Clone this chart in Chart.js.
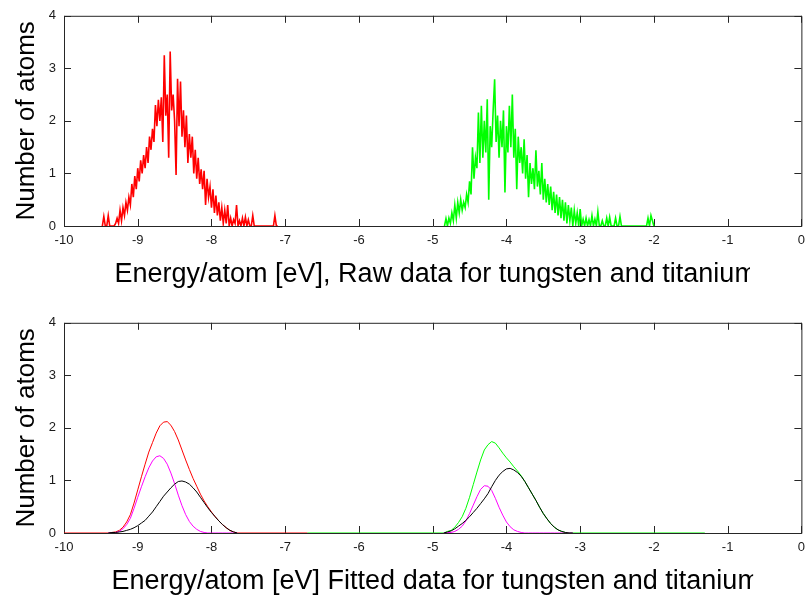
<!DOCTYPE html>
<html>
<head>
<meta charset="utf-8">
<script src="https://cdn.jsdelivr.net/npm/chart.js@4.4.1/dist/chart.umd.min.js"></script>
<style>
html,body{margin:0;padding:0;background:#fff;overflow:hidden}
#wrap{position:relative;width:806px;height:596px;overflow:hidden;background:#fff}
canvas{position:absolute;left:0}
#raw{top:0}
#fit{top:307px}
</style>
</head>
<body>
<div id="wrap">
<canvas id="raw" width="812" height="307"></canvas>
<canvas id="fit" width="812" height="289"></canvas>
</div>
<script>
// ---- tick labels
const xTickValues = [-10,-9,-8,-7,-6,-5,-4,-3,-2,-1,0];
const yTickValues = [0,1,2,3,4];

// ---- raw histograms (bin width 0.02 eV)
const binStep = 0.02;
const wRawStart = -9.48;
const wRaw = [
0,0.18,0,0,0.2,0,0,0,0,0.05,
0.15,0.05,0.3,0.1,0.35,0.2,0.45,0.3,0.55,0.4,
0.8,0.55,0.95,0.7,1.1,0.85,1.25,1.0,1.35,1.1,
1.5,1.2,1.7,1.45,1.85,1.6,2.3,1.9,2.4,2.0,
2.45,1.6,3.25,2.1,2.5,1.3,3.32,2.2,2.5,2.0,
0.97,2.8,1.9,2.75,1.7,2.2,1.5,2.1,1.2,1.75,
1.3,1.7,1.0,1.45,0.9,1.3,0.8,1.08,0.7,1.05,
0.4,0.9,0.55,0.75,0.35,0.7,0.25,0.58,0.2,0.45,
0.1,0.35,0.05,0.3,0.05,0.4,0,0.15,0,0.12,
0.05,0.4,0,0.1,0,0.15,0,0.17,0,0.12,
0,0,0.2,0,0,0,0,0,0,0,
0,0,0,0,0,0,0,0.2,0,0
];
const tiRawStart = -4.84;
const tiRaw = [
0,0.14,0,0.15,0.05,0.25,0.1,0.4,0.15,0.45,
0.25,0.5,0.3,0.45,0.35,0.6,0.45,0.85,0.6,1.5,
0.9,1.3,1.1,2.16,1.2,2.29,1.3,2.0,1.4,2.41,
0.5,1.9,1.5,2.2,2.79,1.6,2.1,1.3,2.0,1.5,
2.2,0.64,1.9,1.4,2.29,1.5,2.5,1.3,1.85,0.7,
1.7,1.2,1.5,1.0,1.65,0.9,1.35,0.55,1.2,0.8,
1.1,0.7,1.44,0.75,1.05,0.6,1.2,0.5,0.9,0.45,
0.8,0.4,0.75,0.3,0.65,0.25,0.6,0.2,0.55,0.15,
0.5,0.1,0.45,0.05,0.4,0.1,0.35,0,0.3,0.05,
0.25,0,0.32,0,0.13,0,0.15,0,0.12,0,
0.2,0,0.13,0,0.27,0,0,0.1,0,0,
0.15,0,0.17,0,0,0,0.15,0,0,0.18,
0,0,0,0,0,0,0,0,0,0,
0,0,0,0,0,0,0,0,0.15,0,
0.2,0.1,0
];

// ---- fitted curves (sampled every 0.05 eV)
const fitStep = 0.05;
const wFitStart = -9.40;
const wFitTotal = [0,0.01,0.02,0.05,0.11,0.21,0.35,0.57,0.82,1.07,1.31,1.54,1.72,1.90,2.04,2.11,2.12,2.05,1.93,1.77,1.58,1.39,1.21,1.04,0.89,0.74,0.61,0.50,0.40,0.31,0.23,0.16,0.10,0.05,0.02,0];
const wFitA = [0,0,0.01,0.03,0.08,0.16,0.28,0.47,0.68,0.88,1.07,1.24,1.37,1.45,1.47,1.42,1.31,1.14,0.94,0.72,0.52,0.35,0.22,0.13,0.07,0.03,0.01,0,0,0,0,0,0,0,0,0];
const wFitB = [0,0.01,0.01,0.02,0.03,0.05,0.07,0.10,0.14,0.19,0.24,0.32,0.40,0.50,0.60,0.70,0.78,0.86,0.93,0.98,0.99,0.97,0.93,0.86,0.78,0.68,0.58,0.48,0.39,0.31,0.23,0.16,0.10,0.05,0.02,0];
const tiFitStart = -4.85;
const tiFitTotal = [0,0.03,0.05,0.11,0.20,0.31,0.47,0.68,0.92,1.16,1.39,1.58,1.68,1.74,1.71,1.62,1.52,1.43,1.35,1.26,1.18,1.09,0.98,0.86,0.74,0.62,0.49,0.37,0.27,0.18,0.11,0.06,0.03,0.01,0,0];
const tiFitA = [0,0.01,0.01,0.03,0.07,0.13,0.23,0.37,0.53,0.69,0.83,0.90,0.89,0.81,0.66,0.49,0.34,0.21,0.12,0.06,0.03,0.01,0,0,0,0,0,0,0,0,0,0,0,0,0,0];
const tiFitB = [0,0.02,0.04,0.08,0.13,0.18,0.24,0.31,0.39,0.47,0.56,0.65,0.75,0.88,1.00,1.10,1.17,1.22,1.23,1.20,1.15,1.08,0.98,0.86,0.74,0.62,0.49,0.37,0.27,0.18,0.11,0.06,0.03,0.01,0,0];
const wFitRange = [-10, -6.70];
const tiFitRange = [-6.70, -1.31];

const tickFont = "'Liberation Sans Narrow','Liberation Sans',Arial,sans-serif";
const titleFont = "'Liberation Sans',Arial,sans-serif";

function series(start, step, vals){
  return vals.map((v,i)=>({x:+(start+i*step).toFixed(2), y:v}));
}
function withRange(range, pts){
  return [{x:range[0],y:0}].concat(pts,[{x:range[1],y:0}]);
}
function line(data, color, order, width){
  return {data:data, borderColor:color, borderWidth:width||1, pointRadius:0, fill:false, tension:0, order:order};
}

// box with inward ticks + axis labels, MATLAB style
const matlabAxes = {
  id:'matlabAxes',
  beforeDatasetsDraw(chart){
    const ctx=chart.ctx, a=chart.chartArea, x=chart.scales.x, y=chart.scales.y;
    ctx.save();
    ctx.strokeStyle='#262626';
    ctx.lineWidth=1;
    ctx.beginPath();
    ctx.rect(a.left+0.5,a.top+0.5,a.right-a.left,a.bottom-a.top);
    x.ticks.forEach(t=>{
      const px=Math.round(x.getPixelForValue(t.value))+0.5;
      ctx.moveTo(px,a.bottom); ctx.lineTo(px,a.bottom-7);
      ctx.moveTo(px,a.top); ctx.lineTo(px,a.top+7);
    });
    y.ticks.forEach(t=>{
      const py=Math.round(y.getPixelForValue(t.value))+0.5;
      ctx.moveTo(a.left,py); ctx.lineTo(a.left+7,py);
      ctx.moveTo(a.right,py); ctx.lineTo(a.right-7,py);
    });
    ctx.stroke();
    ctx.restore();
  },
  afterDraw(chart,args,opts){
    const ctx=chart.ctx, a=chart.chartArea;
    ctx.save();
    ctx.fillStyle='#000';
    ctx.font='27px '+titleFont;
    ctx.textAlign='center';
    ctx.textBaseline='alphabetic';
    const cx=(a.left+a.right)/2+3;
    const w=ctx.measureText(opts.xTitle).width;
    const mw=ctx.measureText('m').width;
    ctx.save();
    ctx.beginPath();
    ctx.rect(0,0,cx+w/2-mw*0.3,chart.height);
    ctx.clip();
    ctx.fillText(opts.xTitle,cx,a.bottom+56);
    ctx.restore();
    ctx.font='26px '+titleFont;
    ctx.translate(34,(a.top+a.bottom)/2);
    ctx.rotate(-Math.PI/2);
    ctx.fillText(opts.yTitle,0,0);
    ctx.restore();
  }
};

function makeChart(id, datasets, xTitle){
  const cv=document.getElementById(id);
  return new Chart(cv,{
    type:'line',
    data:{datasets:datasets},
    plugins:[matlabAxes],
    options:{
      responsive:false,
      animation:false,
      devicePixelRatio:1,
      layout:{padding:{top:13,left:0,right:3,bottom:0}},
      plugins:{
        legend:{display:false},
        tooltip:{enabled:false},
        matlabAxes:{xTitle:xTitle, yTitle:'Number of atoms'}
      },
      scales:{
        x:{
          type:'linear', min:-10, max:0,
          afterBuildTicks:s=>{ s.ticks=xTickValues.map(v=>({value:v})); },
          afterFit:s=>{ s.height=cv.height-226; },
          grid:{display:false, drawTicks:false},
          border:{display:false},
          ticks:{padding:7, autoSkip:false, maxRotation:0, color:'#1a1a1a', font:{family:tickFont,size:13}}
        },
        y:{
          min:0, max:4,
          afterBuildTicks:s=>{ s.ticks=yTickValues.map(v=>({value:v})); },
          afterFit:s=>{ s.width=64; },
          grid:{display:false, drawTicks:false},
          border:{display:false},
          ticks:{padding:8, color:'#1a1a1a', font:{family:tickFont,size:13}}
        }
      }
    }
  });
}

makeChart('raw',[
  line(series(wRawStart,binStep,wRaw),'#ff0000',2,1.6),
  line(series(tiRawStart,binStep,tiRaw),'#00ff00',2,1.6)
],'Energy/atom [eV], Raw data for tungsten and titanium');

makeChart('fit',[
  line(withRange(wFitRange,series(wFitStart,fitStep,wFitTotal)),'#ff0000',3),
  line(withRange(tiFitRange,series(tiFitStart,fitStep,tiFitTotal)),'#00ff00',3),
  line(series(wFitStart,fitStep,wFitA),'#ff00ff',2),
  line(series(tiFitStart,fitStep,tiFitA),'#ff00ff',2),
  line(series(wFitStart,fitStep,wFitB),'#000000',1),
  line(series(tiFitStart,fitStep,tiFitB),'#000000',1)
],'Energy/atom [eV] Fitted data for tungsten and titanium');
</script>
</body>
</html>
